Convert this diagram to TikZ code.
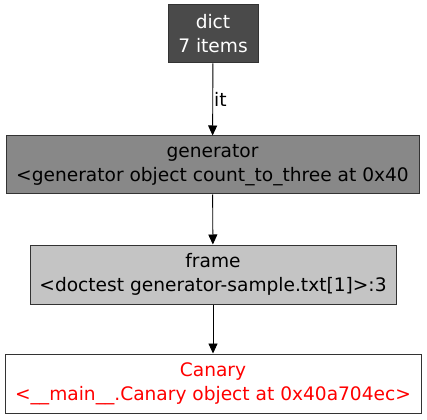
\documentclass[tikz,border=0pt]{standalone}
\usepackage{fontspec}
\setmainfont{DejaVu Sans}
\usetikzlibrary{arrows.meta}
\definecolor{dictfill}{HTML}{4A4A4A}
\definecolor{genfill}{HTML}{888888}
\definecolor{framefill}{HTML}{C4C4C4}
\definecolor{boxline}{HTML}{333333}
\definecolor{canred}{HTML}{FF0000}
\tikzset{
  objbox/.style={draw=boxline, line width=1pt, rectangle, inner sep=0pt, align=center,
    font=\fontsize{18.6pt}{24pt}\selectfont},
  edge/.style={line width=0.9pt, -{Triangle[length=10pt,width=9pt]}},
}
\begin{document}
\begin{tikzpicture}[x=1pt,y=-1pt]
\useasboundingbox (0,0) rectangle (427,419);
\node[objbox, fill=dictfill, text=white, minimum width=90pt, minimum height=58pt] (dict) at (213,34) {dict\\7 items};
\node[objbox, fill=genfill, minimum width=413pt, minimum height=58pt] (gen) at (212.5,165) {generator\\<generator object count\_to\_three at 0x40};
\node[objbox, fill=framefill, minimum width=366pt, minimum height=59pt] (frame) at (213,274.5) {frame\\<doctest generator-sample.txt[1]>:3};
\node[objbox, fill=white, text=canred, minimum width=416pt, minimum height=59pt] (canary) at (213,383.5) {Canary\\<\_\_main\_\_.Canary object at 0x40a704ec>};
\draw[edge] (dict) -- node[right, inner sep=1pt, font=\fontsize{18.6pt}{20pt}\selectfont] (itlabel) {it} (gen);
\draw[edge] (gen) -- (frame);
\draw[edge] (frame) -- (canary);
\end{tikzpicture}
\end{document}
